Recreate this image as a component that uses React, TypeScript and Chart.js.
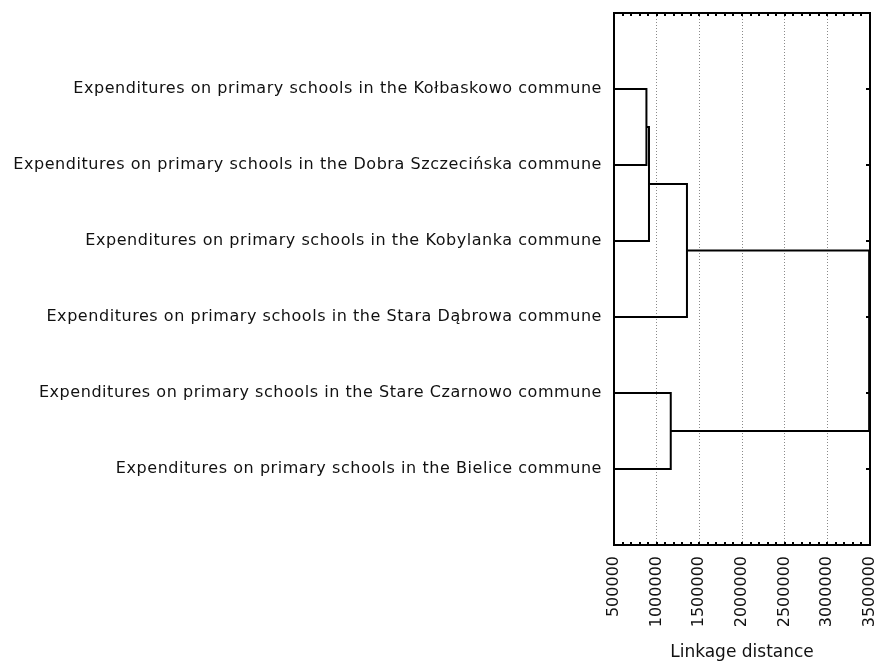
import React, { useEffect, useRef } from "react";
import { Chart, registerables } from "chart.js";

Chart.register(...registerables);

const leafLabels = [
  "Expenditures on primary schools in the Kołbaskowo commune",
  "Expenditures on primary schools in the Dobra Szczecińska commune",
  "Expenditures on primary schools in the Kobylanka commune",
  "Expenditures on primary schools in the Stara Dąbrowa commune",
  "Expenditures on primary schools in the Stare Czarnowo commune",
  "Expenditures on primary schools in the Bielice commune",
];

const axisMin = 500000;
const axisMax = 3500000;
const tickStep = 500000;
const minorStep = 100000;

// merges: children indices (0-5 leaves, 6+ clusters in creation order)
const mergeLeft = [0, 6, 7, 4, 8];
const mergeRight = [1, 2, 3, 5, 9];
const mergeHeights = [880000, 910000, 1355000, 1165000, 3490000];

const axisTitle = "Linkage distance";

function buildSegments() {
  const nodeX: number[] = leafLabels.map(() => axisMin);
  const nodeY: number[] = leafLabels.map((_, i) => i + 1);
  const segs: { x: number; y: number }[][] = [];
  mergeHeights.forEach((h, k) => {
    const a = mergeLeft[k];
    const b = mergeRight[k];
    segs.push([
      { x: nodeX[a], y: nodeY[a] },
      { x: h, y: nodeY[a] },
      { x: h, y: nodeY[b] },
      { x: nodeX[b], y: nodeY[b] },
    ]);
    nodeX.push(h);
    nodeY.push((nodeY[a] + nodeY[b]) / 2);
  });
  return segs;
}

const decorPlugin = {
  id: "decor",
  afterDraw(chart: any) {
    const { ctx, chartArea, scales } = chart;
    const x = scales.x;
    const y = scales.y;
    ctx.save();
    ctx.strokeStyle = "#000";
    ctx.lineWidth = 2;
    ctx.beginPath();
    for (let v = axisMin; v <= axisMax; v += minorStep) {
      const px = Math.round(x.getPixelForValue(v));
      ctx.moveTo(px, chartArea.top);
      ctx.lineTo(px, chartArea.top + 3);
      ctx.moveTo(px, chartArea.bottom);
      ctx.lineTo(px, chartArea.bottom - 3);
    }
    leafLabels.forEach((_, i) => {
      const py = Math.round(y.getPixelForValue(i + 1));
      ctx.moveTo(chartArea.right - 4, py);
      ctx.lineTo(chartArea.right, py);
    });
    ctx.stroke();
    ctx.font = "16px 'DejaVu Sans'";
    (ctx as any).letterSpacing = "0.55px";
    ctx.textAlign = "right";
    ctx.textBaseline = "middle";
    ctx.fillStyle = "#111";
    leafLabels.forEach((t, i) => {
      ctx.fillText(t, 602, y.getPixelForValue(i + 1));
    });
    ctx.restore();
  },
};

export default function App() {
  const ref = useRef<HTMLCanvasElement | null>(null);
  useEffect(() => {
    document.body.style.margin = "0";
    const segs = buildSegments();
    const chart = new Chart(ref.current as HTMLCanvasElement, {
      type: "scatter",
      data: {
        datasets: segs.map((s) => ({
          data: s,
          showLine: true,
          borderColor: "#000",
          borderWidth: 2,
          pointRadius: 0,
          tension: 0,
          xAxisID: "x",
          yAxisID: "y",
        })),
      },
      options: {
        animation: false,
        responsive: true,
        maintainAspectRatio: false,
        layout: { padding: { top: 13, right: 6, left: 0, bottom: 0 } },
        plugins: { legend: { display: false }, tooltip: { enabled: false } },
        scales: {
          x: {
            type: "linear",
            position: "bottom",
            min: axisMin,
            max: axisMax,
            ticks: {
              stepSize: tickStep,
              autoSkip: false,
              minRotation: 90,
              maxRotation: 90,
              padding: 11,
              color: "#111",
              font: { family: "'DejaVu Sans'", size: 16 },
              callback: (v: any) => String(v),
            },
            grid: {
              display: true,
              color: "#8a8a8a",
              lineWidth: 1,
              drawTicks: false,
            },
            border: { display: true, color: "#000", width: 2, dash: [1, 2] },
            title: {
              display: true,
              text: axisTitle,
              color: "#111",
              font: { family: "'DejaVu Sans'", size: 17 },
              padding: { top: 0, bottom: 0 },
            },
            afterFit: (s: any) => {
              s.height = 118;
              s.paddingLeft = 0;
              s.paddingRight = 0;
            },
          },
          x2: {
            type: "linear",
            position: "top",
            min: axisMin,
            max: axisMax,
            ticks: { display: false },
            grid: { display: false },
            border: { display: true, color: "#000", width: 2 },
            afterFit: (s: any) => {
              s.height = 0;
              s.paddingLeft = 0;
              s.paddingRight = 0;
            },
          },
          y: {
            type: "linear",
            position: "left",
            min: 0,
            max: leafLabels.length + 1,
            reverse: true,
            ticks: { display: false },
            grid: { display: false },
            border: { display: true, color: "#000", width: 2 },
            afterFit: (s: any) => {
              s.width = 614;
              s.paddingTop = 0;
              s.paddingBottom = 0;
            },
          },
          y2: {
            type: "linear",
            position: "right",
            min: 0,
            max: leafLabels.length + 1,
            reverse: true,
            ticks: { display: false },
            grid: { display: false },
            border: { display: true, color: "#000", width: 2 },
            afterFit: (s: any) => {
              s.width = 0;
              s.paddingTop = 0;
              s.paddingBottom = 0;
            },
          },
        },
      } as any,
      plugins: [decorPlugin],
    });
    return () => chart.destroy();
  }, []);
  return (
    <div style={{ width: 876, height: 663, position: "relative" }}>
      <canvas ref={ref} />
    </div>
  );
}
